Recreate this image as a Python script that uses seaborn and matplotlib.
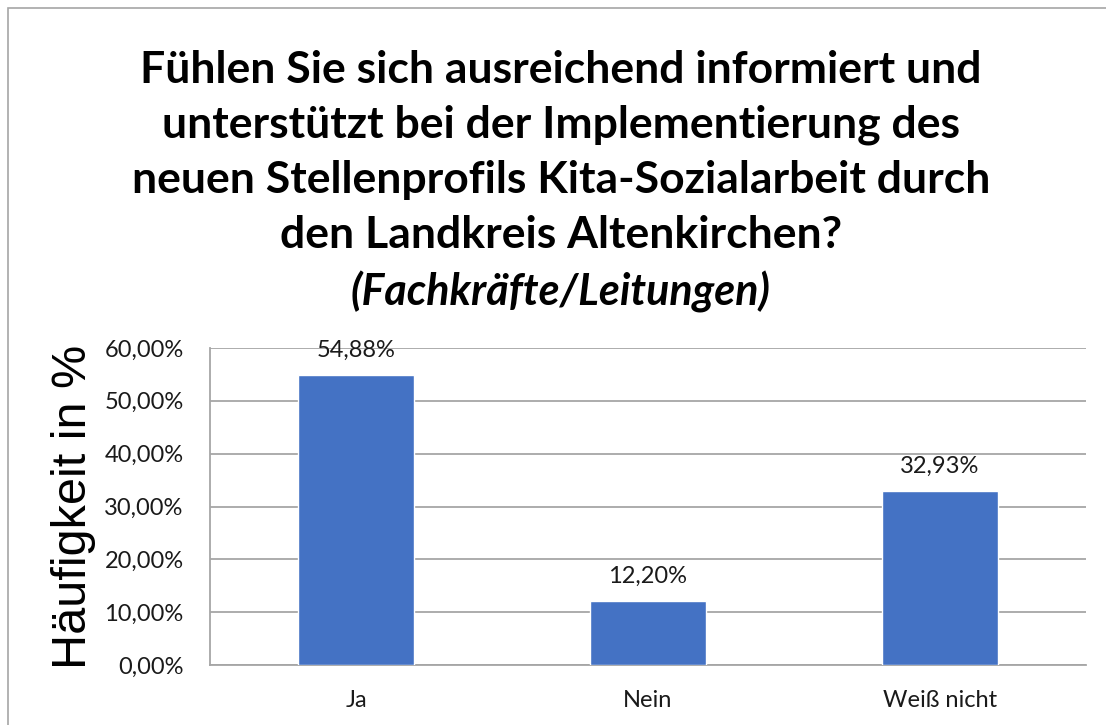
import matplotlib
matplotlib.use("Agg")
import matplotlib.pyplot as plt
import matplotlib.ticker as mticker
from matplotlib.patches import Rectangle
import seaborn as sns
import pandas as pd

categories = ["Ja", "Nein", "Weiß nicht"]
values = [54.88, 12.20, 32.93]
y_ticks = [0, 10, 20, 30, 40, 50, 60]

title_lines = [
    "Fühlen Sie sich ausreichend informiert und",
    "unterstützt bei der Implementierung des",
    "neuen Stellenprofils Kita-Sozialarbeit durch",
    "den Landkreis Altenkirchen?",
]
subtitle = "(Fachkräfte/Leitungen)"
y_label = "Häufigkeit in %"

BAR_COLOR = "#4472C4"
GRID_COLOR = "#A6A6A6"
TEXT_FONT = ["Lato", "DejaVu Sans"]


def pct(v):
    return f"{v:.2f}".replace(".", ",") + "%"


sns.set_theme(style="white")
plt.rcParams["font.family"] = TEXT_FONT

df = pd.DataFrame({"Antwort": categories, "Anteil": values})

fig = plt.figure(figsize=(11.06, 7.25), dpi=100)
ax = fig.add_axes([210 / 1106, 1 - 665 / 725, 876 / 1106, 317 / 725])

sns.barplot(data=df, x="Antwort", y="Anteil", color=BAR_COLOR, width=0.4,
            saturation=1, ax=ax, zorder=3)

ax.set_ylim(0, 60)
ax.set_xlim(-0.5, 2.5)
ax.set_yticks(y_ticks)
ax.yaxis.set_major_formatter(mticker.FuncFormatter(lambda v, _: pct(v)))
ax.grid(axis="y", color=GRID_COLOR, linewidth=1.3, zorder=0)
ax.set_axisbelow(True)
for side in ["top", "right"]:
    ax.spines[side].set_visible(False)
for side in ["left", "bottom"]:
    ax.spines[side].set_color(GRID_COLOR)
    ax.spines[side].set_linewidth(1.3)
ax.tick_params(axis="both", length=0, labelsize=17, colors="#1a1a1a")
ax.tick_params(axis="y", pad=19)
ax.tick_params(axis="x", pad=18)
ax.set_xlabel("")
ax.set_ylabel(y_label, fontsize=35, family=["Liberation Sans", "DejaVu Sans"],
              labelpad=6, color="black")

for i, v in enumerate(values):
    ax.text(i, v + 2.6, pct(v), ha="center", va="bottom", fontsize=17,
            color="#1a1a1a")

for k, line in enumerate(title_lines):
    fig.text(561 / 1106, 1 - (70 + 55 * k) / 725, line, ha="center", va="center",
             fontsize=32, fontweight="bold", color="black")
fig.text(561 / 1106, 1 - 292 / 725, subtitle, ha="center", va="center",
         fontsize=31, fontweight="bold", fontstyle="italic", color="black")

fig.patches.append(Rectangle((8 / 1106, -0.1), 1.2, 1 - 8 / 725 + 0.1,
                             transform=fig.transFigure, fill=False,
                             edgecolor="#A6A6A6", linewidth=1.2))

fig.savefig("out.png", dpi=100)
